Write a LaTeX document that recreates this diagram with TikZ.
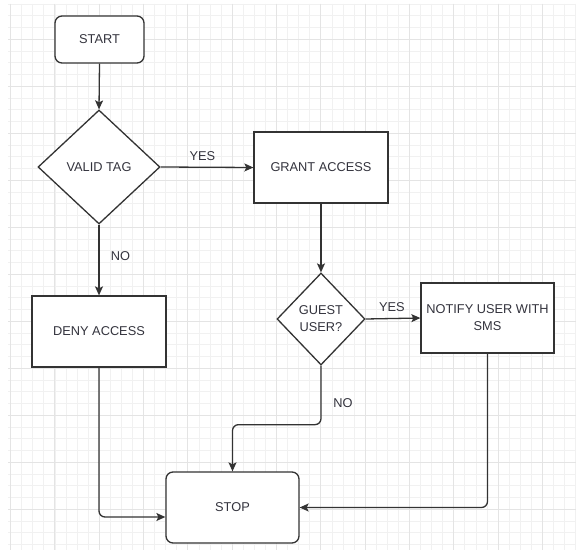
\documentclass[tikz,border=0pt]{standalone}
\usepackage{fontspec}
\setmainfont{Liberation Sans}
\usetikzlibrary{shapes.geometric,arrows.meta,calc}
\definecolor{ink}{HTML}{333333}
\definecolor{txt}{HTML}{33333D}
\definecolor{gridminor}{HTML}{F1F1F1}
\definecolor{gridmajor}{HTML}{E4E4E4}
\begin{document}
\begin{tikzpicture}[x=1pt,y=-1pt,
  every node/.style={font=\fontsize{12.8}{17}\selectfont, text=txt},
  procbox/.style={draw=ink, line width=1.3pt, fill=white, rectangle, minimum width=134pt, minimum height=71pt, inner sep=2pt, align=center},
  termbox/.style={procbox, rounded corners=7pt},
  decision/.style={draw=ink, line width=1.3pt, fill=white, diamond, inner sep=0pt, align=center},
  flow/.style={draw=ink, line width=1.3pt, rounded corners=6pt, -{Stealth[length=9pt,width=8pt,inset=2pt]}},
  lbl/.style={font=\fontsize{12.8}{17}\selectfont}
]
% canvas
\useasboundingbox (0,0) rectangle (576,551);
\fill[white] (0,0) rectangle (576,551);
% background grid: minor lines, then heavier lines every fourth step
\foreach \k in {0,...,51} {
  \pgfmathsetmacro\gx{10.6+11.08*\k}
  \draw[gridminor, line width=0.8pt] (\gx,4) -- (\gx,550);
}
\foreach \j in {0,...,46} {
  \pgfmathsetmacro\gy{4+11.75*\j}
  \draw[gridminor, line width=0.8pt] (8,\gy) -- (576,\gy);
}
\foreach \k in {0,4,...,48} {
  \pgfmathsetmacro\gx{10.6+11.08*\k}
  \draw[gridmajor, line width=0.9pt] (\gx,4) -- (\gx,550);
}
\foreach \j in {3,7,...,43} {
  \pgfmathsetmacro\gy{4+11.75*\j}
  \draw[gridmajor, line width=0.9pt] (8,\gy) -- (576,\gy);
}

% nodes
\node[termbox, minimum width=89pt, minimum height=47pt] (start) at (99.5,39.5) {START};
\node[decision, minimum width=122pt, minimum height=114pt] (valid) at (99,167) {VALID TAG};
\node[procbox] (grant) at (321,167.5) {GRANT ACCESS};
\node[procbox] (deny) at (99,331.5) {DENY ACCESS};
\node[decision, minimum width=88pt, minimum height=92pt] (guest) at (321,319) {GUEST\\USER?};
\node[procbox, minimum width=133pt, minimum height=70pt] (notify) at (487.5,318) {NOTIFY USER WITH\\SMS};
\node[termbox, minimum width=133pt] (stop) at (232.5,507.5) {STOP};

% connectors
\draw[flow] (start.south) -- (valid.north);
\draw[flow] (valid.east) -- node[lbl, above=3pt, pos=0.45] (yes1) {YES} (grant.west);
\draw[flow] (valid.south) -- node[lbl, right=8pt, pos=0.45] (no1) {NO} (deny.north);
\draw[flow] (grant.south) -- (guest.north);
\draw[flow] (guest.east) -- node[lbl, above=3pt, pos=0.48] (yes2) {YES} (notify.west);
\coordinate (guestturn) at ($(guest.south)+(0,59)$);
\draw[flow] (guest.south) -- (guestturn) -| (stop.north);
\node[lbl] (no2) at (343,403) {NO};
\draw[flow] (deny.south) |- ([yshift=-9.5pt]stop.west);
\draw[flow] (notify.south) |- (stop.east);
\end{tikzpicture}
\end{document}
